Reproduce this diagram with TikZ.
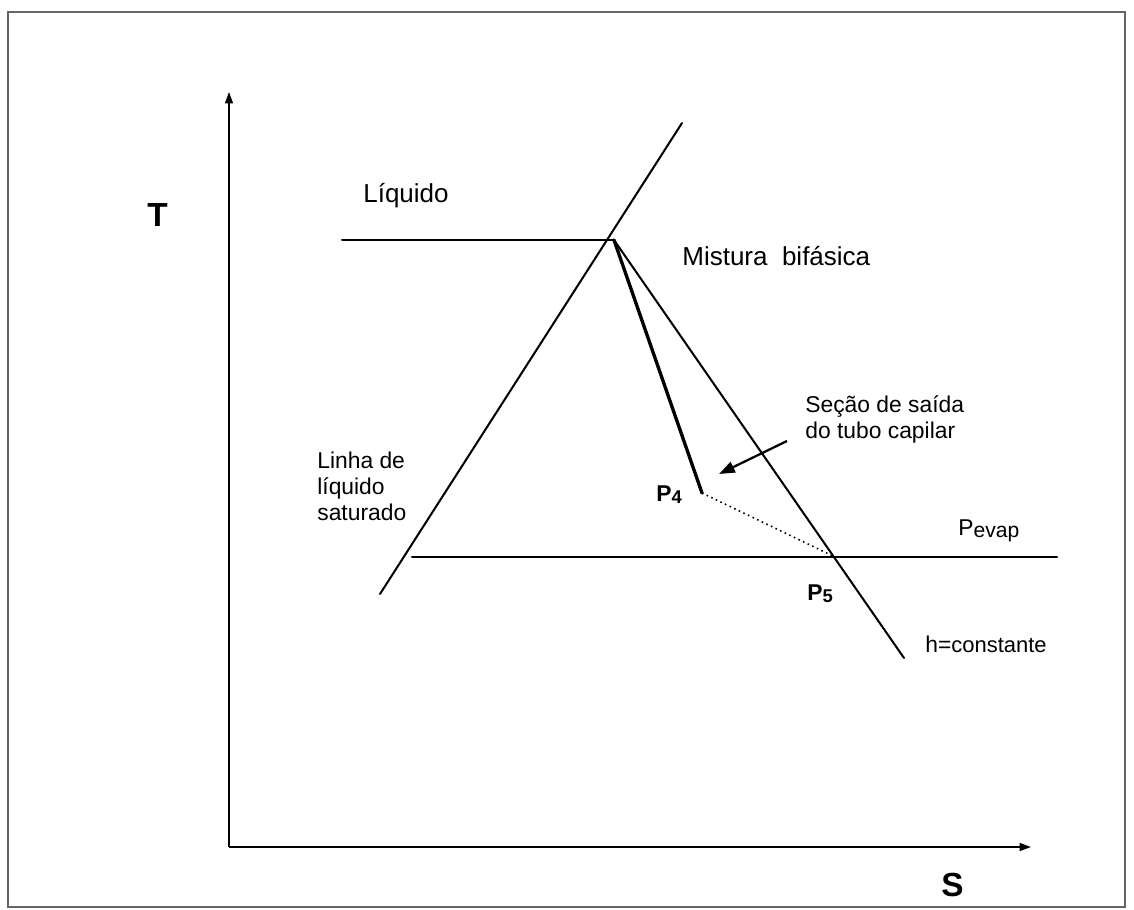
\documentclass[tikz,border=0pt]{standalone}
\usepackage{fontspec}
\setmainfont{Liberation Sans}
\usetikzlibrary{arrows.meta}
\newcommand{\pidx}[1]{\raisebox{-1.5pt}{\fontsize{10.5}{12}\selectfont #1}}
\tikzset{
  curve/.style={line width=1.15pt, line cap=round},
  process/.style={line width=1.9pt, line cap=round},
  axis/.style={line width=0.9pt, -{Triangle[length=6.5pt,width=4.5pt]}},
  lbl/.style={font=\fontsize{13}{14.8}\selectfont, inner sep=0pt, anchor=base west, align=left},
  biglbl/.style={font=\fontsize{14.8}{17}\selectfont, inner sep=0pt, anchor=base west},
  axlbl/.style={font=\fontsize{19}{22}\selectfont\bfseries, inner sep=0pt, anchor=base west},
  ptlbl/.style={font=\fontsize{13}{15}\selectfont\bfseries, inner sep=0pt, anchor=base west},
}

\begin{document}
\begin{tikzpicture}[x=0.02cm, y=-0.02cm]
  \useasboundingbox (0,0) rectangle (1134,910);
  \draw[line width=0.8pt, draw=black!60] (8,12) rectangle (1125,907);
  % axes
  \coordinate (origin) at (229,847);
  \coordinate (tmax) at (229,92);
  \coordinate (smax) at (1031,847);
  \draw[axis] (origin) -- (tmax);
  \draw[axis] (origin) -- (smax);
  \node[axlbl] (tlabel) at (147,226) {T};
  \node[axlbl] (slabel) at (941,896) {S};
  % points of the diagram
  \coordinate (liqleft) at (342,240);
  \coordinate (crit) at (614,240);
  \coordinate (satlow) at (380,594);
  \coordinate (sathigh) at (682,123);
  \coordinate (hend) at (904,658);
  \coordinate (p4) at (702,493);
  \coordinate (p5) at (835,557);
  \coordinate (evapleft) at (412,557);
  \coordinate (evapright) at (1057,557);
  % lines
  \draw[curve] (liqleft) -- (crit);
  \draw[curve] (satlow) -- (sathigh);
  \draw[curve] (crit) -- (hend);
  \draw[curve] (evapleft) -- (evapright);
  \draw[process] (crit) -- (p4);
  \draw[line width=0.9pt, dotted] (p4) -- (p5);
  % labels (base = last line)
  \node[biglbl] (liquido) at (363,202) {Líquido};
  \node[biglbl] (mistura) at (682,265) {Mistura \ bifásica};
  \node[lbl] (secao) at (805,438) {Seção de saída\\do tubo capilar};
  \node[lbl] (linha) at (317,520) {Linha de\\líquido\\saturado};
  \node[ptlbl] (p4label) at (656,501) {P\pidx{4}};
  \node[ptlbl] (p5label) at (807,600) {P\pidx{5}};
  \node[lbl] (pevap) at (958,535) {P{\fontsize{12}{14}\selectfont\raisebox{-1.5pt}{evap}}};
  \node[lbl] (hconst) at (925,652) {h={\fontsize{12.5}{14}\selectfont constante}};
  % arrow to the outlet section
  \coordinate (arrstart) at (787,441);
  \coordinate (arrend) at (719,474);
  \draw[line width=1.3pt, -{Triangle[length=9pt,width=6.5pt]}] (arrstart) -- (arrend);
\end{tikzpicture}
\end{document}
